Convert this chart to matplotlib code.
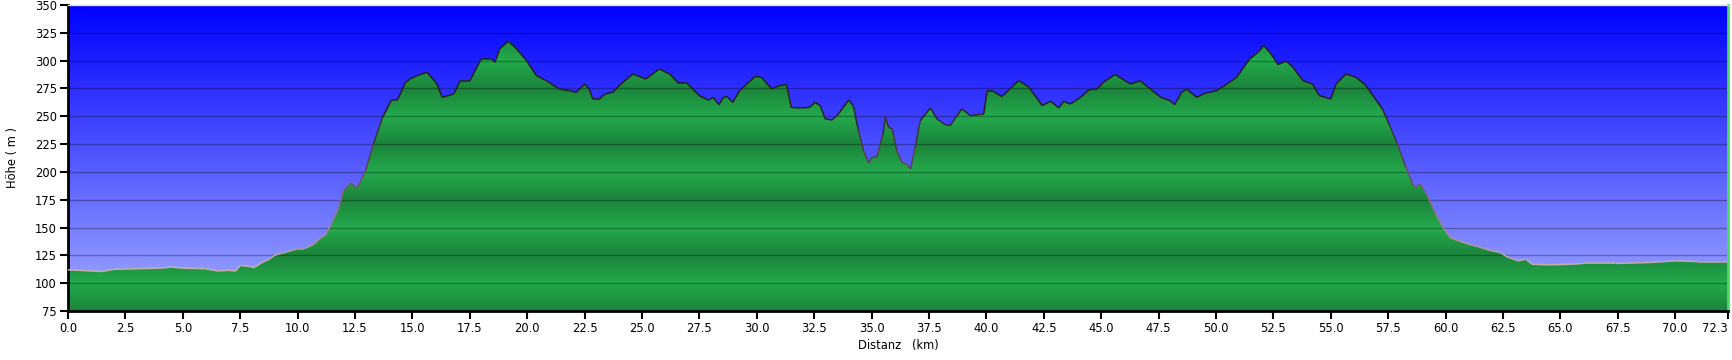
import matplotlib
matplotlib.use("Agg")
import matplotlib.pyplot as plt
import numpy as np
from matplotlib.collections import LineCollection
from matplotlib.colors import LinearSegmentedColormap

# elevation profile (km, m)
DISTANCE_KM = [
    0.0, 0.5, 1.0, 1.5, 2.0, 3.0, 4.0, 4.5, 5.0, 6.0, 6.5, 7.0, 7.3, 7.5, 7.9,
    8.1, 8.4, 8.8, 9.0, 9.5, 10.0, 10.3, 10.7, 11.0, 11.2, 11.45, 11.8, 12.0,
    12.3, 12.6, 12.96, 13.3, 13.7, 14.1, 14.36, 14.7, 14.9, 15.2, 15.64, 16.07,
    16.3, 16.8, 17.08, 17.5, 18.0, 18.45, 18.6, 18.8, 19.18, 19.54, 19.97,
    20.4, 20.84, 21.4, 21.85, 22.14, 22.5, 22.7, 22.86, 23.15, 23.37, 23.73,
    24.0, 24.6, 25.17, 25.75, 26.2, 26.6, 26.97, 27.5, 27.9, 28.1, 28.35,
    28.55, 28.75, 28.95, 29.25, 29.65, 29.93, 30.2, 30.65, 31.0, 31.3, 31.5,
    31.9, 32.3, 32.54, 32.76, 32.98, 33.27, 33.5, 34.0, 34.2, 34.43, 34.65,
    34.87, 35.0, 35.23, 35.38, 35.5, 35.6, 35.74, 35.9, 36.1, 36.32, 36.54,
    36.7, 36.9, 37.12, 37.56, 37.85, 38.2, 38.43, 38.72, 38.93, 39.3, 39.88,
    40.03, 40.3, 40.67, 41.4, 41.83, 42.43, 42.8, 43.15, 43.37, 43.66, 44.1,
    44.46, 44.83, 45.1, 45.6, 46.28, 46.7, 47.08, 47.6, 48.0, 48.2, 48.5,
    48.73, 49.16, 49.52, 50.03, 50.53, 50.9, 51.47, 51.84, 52.08, 52.4, 52.7,
    53.06, 53.35, 53.79, 54.2, 54.5, 55.0, 55.23, 55.66, 56.1, 56.53, 56.97,
    57.25, 57.54, 57.9, 58.27, 58.63, 58.9, 59.2, 59.57, 59.93, 60.2, 60.58,
    61.0, 61.44, 61.88, 62.38, 62.67, 63.18, 63.5, 63.76, 64.5, 65.4, 66.0,
    67.4, 68.9, 70.0, 71.0, 72.3,
]
ELEVATION_M = [
    112, 111.5, 111, 110.5, 112.5, 113, 113.5, 114.5, 113.5, 113, 111, 111.5,
    111, 116, 115, 114, 118, 122, 125, 128, 131, 131, 135, 141, 143, 152, 168,
    183, 190, 185.5, 201, 225, 249, 265, 265, 280.5, 283.5, 286.5, 289.5, 279,
    267, 270, 282, 282, 301.5, 301.5, 298.5, 310.5, 317.5, 310.5, 300, 286.5,
    282, 274.5, 273, 271.5, 279, 274.5, 265.5, 265.5, 270, 271.5, 277.5, 288,
    283.5, 292.5, 288, 279.5, 279.5, 268.5, 264.5, 267, 260.5, 267, 267,
    262.5, 273, 280.5, 285.7, 285, 274.6, 277.6, 278.5, 258, 257.5, 258,
    262.6, 259.6, 247.6, 246.7, 250.6, 264.7, 259.6, 237, 219, 208, 213,
    213.7, 225, 234, 249, 240, 238.6, 219, 208.6, 207, 202.6, 222, 246, 257.5,
    247.6, 242.5, 241.6, 250.6, 256.6, 250.6, 252, 272.5, 272.5, 267.7, 282,
    276.7, 259.6, 263.5, 257.5, 263.5, 261, 267, 273.7, 274.6, 280.6, 287.5,
    279, 282, 275.5, 267, 264, 260.5, 271.6, 274.6, 267, 270.7, 273, 279.7,
    285, 301.6, 307.6, 313.6, 306, 296.5, 299.5, 294, 282, 279, 268.6, 265.6,
    279, 288, 285, 277.6, 264.7, 256.6, 243, 225, 204, 186, 189, 178.6, 162,
    148.6, 141, 138, 135, 132.7, 129.7, 127.6, 123.7, 120, 121.6, 117, 116.5,
    117, 117.7, 117.7, 118.6, 120, 119.4, 119.4,
]

Y_TICKS = [75, 100, 125, 150, 175, 200, 225, 250, 275, 300, 325, 350]
X_TICKS = list(np.arange(0, 71, 2.5)) + [72.3]
X_MAX = 72.3
Y_MIN, Y_MAX = 75, 350


def main() -> None:
    plt.rcParams["font.family"] = "DejaVu Sans"
    fig = plt.figure(figsize=(17.32, 3.6), dpi=100)
    ax = fig.add_axes([68 / 1732, 49 / 360, 1660 / 1732, 306 / 360])

    x = np.array(DISTANCE_KM)
    y = np.array(ELEVATION_M)

    # sky gradient behind the profile
    sky = LinearSegmentedColormap.from_list("sky", [(0.64, 0.68, 1.0), (0.0, 0.0, 1.0)])
    ax.imshow(np.linspace(0, 1, 256).reshape(-1, 1), cmap=sky, origin="lower",
              extent=[0, X_MAX, Y_MIN, Y_MAX], aspect="auto", zorder=0)

    # banded green fill, light at 100/150/..., dark at 125/175/...
    levels = np.linspace(Y_MIN, Y_MAX, 600)
    t = np.abs(((levels - Y_MIN) % 50) - 25) / 25
    light = np.array([36, 170, 77]) / 255
    dark = np.array([27, 132, 59]) / 255
    band = (light[None, :] * (1 - t[:, None]) + dark[None, :] * t[:, None])
    img = ax.imshow(band[:, None, :], origin="lower",
                    extent=[0, X_MAX, Y_MIN, Y_MAX], aspect="auto", zorder=1)
    fill = ax.fill_between(x, Y_MIN, y, facecolor="none", edgecolor="none")
    img.set_clip_path(fill.get_paths()[0], transform=ax.transData)

    # outline: light on the lowland, dark on the ridge
    pts = np.column_stack([x, y]).reshape(-1, 1, 2)
    segs = np.concatenate([pts[:-1], pts[1:]], axis=1)
    line_cmap = LinearSegmentedColormap.from_list(
        "edge", [(0.78, 0.68, 0.68), (0.45, 0.35, 0.38), (0.15, 0.12, 0.12)])
    lc = LineCollection(segs, cmap=line_cmap, linewidth=1.1, zorder=3)
    lc.set_array((y[:-1] + y[1:]) / 2)
    lc.set_clim(115, 260)
    ax.add_collection(lc)

    for level in Y_TICKS[1:-1]:
        ax.axhline(level, color="black", alpha=0.3, linewidth=1, zorder=2)

    ax.set_xlim(0, X_MAX)
    ax.set_ylim(Y_MIN, Y_MAX)
    ax.set_xticks(X_TICKS)
    ax.set_xticklabels([f"{v:.1f}" for v in X_TICKS])
    ax.get_xticklabels()[-1].set_horizontalalignment("right")
    ax.set_yticks(Y_TICKS)
    ax.tick_params(axis="both", labelsize=8.3, length=6, width=1.5, color="black", pad=2)

    ax.spines["left"].set_linewidth(2)
    ax.spines["bottom"].set_linewidth(2)
    ax.spines["top"].set_color("#dddddd")
    ax.spines["top"].set_linewidth(1)
    ax.spines["right"].set_color("#4cd966")
    ax.spines["right"].set_linewidth(2)

    ax.set_xlabel("Distanz   (km)", fontsize=8.3)
    ax.xaxis.set_label_coords(0.5, -0.092)
    ax.set_ylabel("Höhe ( m )", fontsize=8.3)
    ax.yaxis.set_label_coords(-0.0298, 0.5)

    fig.savefig("out.png", dpi=100)
    plt.close(fig)


if __name__ == "__main__":
    main()
